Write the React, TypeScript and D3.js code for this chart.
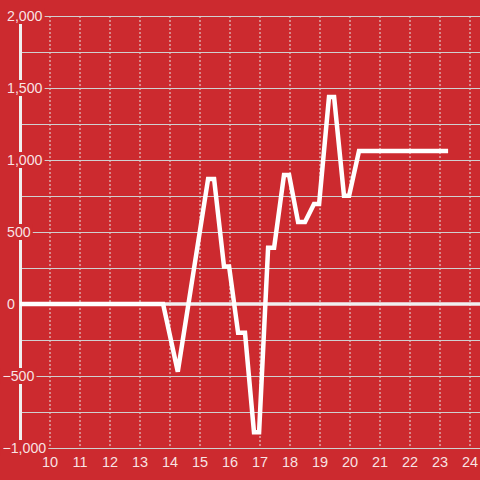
import React, { useEffect, useRef } from "react";
import * as d3 from "d3";

const xs = [9, 13.77, 14.26, 15.27, 15.47, 15.8, 15.97, 16.27, 16.5, 16.8, 16.97, 17.27, 17.47, 17.8, 17.97, 18.27, 18.5, 18.8, 18.97, 19.3, 19.47, 19.8, 19.97, 20.3, 23.27];
const ys = [0, 0, -470, 868, 868, 260, 260, -200, -200, -890, -890, 390, 390, 896, 896, 569, 569, 694, 694, 1437, 1437, 752, 752, 1062, 1062];
const xTicks = [10, 11, 12, 13, 14, 15, 16, 17, 18, 19, 20, 21, 22, 23, 24];
const yLabelTicks = [-1000, -500, 0, 500, 1000, 1500, 2000];
const yGridTicks = [-1000, -750, -500, -250, 0, 250, 500, 750, 1000, 1250, 1500, 1750, 2000];

const BG = "#cc2a2f";
const W = 480, H = 480;

export default function App() {
  const ref = useRef<SVGSVGElement>(null);
  useEffect(() => {
    const svg = d3.select(ref.current);
    svg.selectAll("*").remove();
    const x = d3.scaleLinear().domain([9, 24]).range([20, 470]);
    const y = d3.scaleLinear().domain([-1000, 2000]).range([448, 16]);

    svg.append("rect").attr("width", W).attr("height", H).attr("fill", BG);

    // vertical dashed grid
    svg.append("g").selectAll("line").data(xTicks).join("line")
      .attr("x1", d => x(d)).attr("x2", d => x(d))
      .attr("y1", y(2000)).attr("y2", y(-1000))
      .attr("stroke", "#e6e6e6").attr("stroke-width", 1).attr("stroke-dasharray", "2,2");

    // horizontal grid
    svg.append("g").selectAll("line").data(yGridTicks.filter(d => d !== 0)).join("line")
      .attr("x1", 22).attr("x2", W)
      .attr("y1", d => y(d) + 0.5).attr("y2", d => y(d) + 0.5)
      .attr("stroke", "#d0d0d0").attr("stroke-width", 1.2);

    // zero line
    svg.append("line").attr("x1", 20).attr("x2", W).attr("y1", y(0)).attr("y2", y(0))
      .attr("stroke", "#f0f0f0").attr("stroke-width", 3.5);

    // y axis line
    svg.append("line").attr("x1", 20.5).attr("x2", 20.5).attr("y1", y(2000)).attr("y2", y(-1000))
      .attr("stroke", "#f0f0f0").attr("stroke-width", 3);

    // data line
    const pts = xs.map((v, i) => [v, ys[i]] as [number, number]);
    const line = d3.line<[number, number]>().x(d => x(d[0])).y(d => y(d[1]));
    svg.append("path").attr("d", line(pts)).attr("fill", "none")
      .attr("stroke", "#ffffff").attr("stroke-width", 4.5).attr("stroke-linejoin", "miter");

    // y labels with background boxes (left-aligned, minus hanging)
    const fmt = d3.format(",");
    const yl = svg.append("g");
    yLabelTicks.forEach(t => {
      const g = yl.append("g");
      const txt = g.append("text").attr("x", t < 0 ? 2.4 : 7).attr("y", y(t)).attr("dy", "0.35em")
        .attr("text-anchor", "start").attr("font-family", "Liberation Sans, Arial, sans-serif")
        .attr("font-size", 14.2).attr("fill", "rgba(255,255,255,0.88)").text(fmt(t));
      const bb = (txt.node() as SVGTextElement).getBBox();
      g.insert("rect", "text").attr("x", bb.x - 2).attr("y", y(t) - 8).attr("width", bb.width + 4)
        .attr("height", 16).attr("fill", BG);
    });

    // x labels
    svg.append("g").selectAll("text").data(xTicks).join("text")
      .attr("x", d => x(d)).attr("y", 467).attr("text-anchor", "middle")
      .attr("font-family", "Liberation Sans, Arial, sans-serif").attr("font-size", 14.5)
      .attr("fill", "rgba(255,255,255,0.88)").text(d => String(d));
  }, []);
  return (
    <svg ref={ref} width={W} height={H} style={{ position: "absolute", left: 0, top: 0, display: "block" }} />
  );
}
